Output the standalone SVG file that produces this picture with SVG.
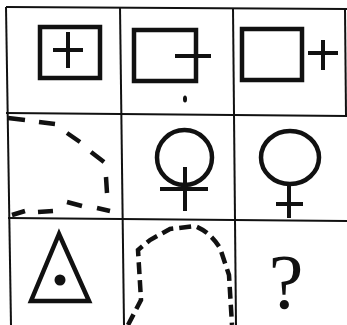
<svg xmlns="http://www.w3.org/2000/svg" width="347" height="325" viewBox="0 0 347 325">
<style>
.grid{stroke:#111;stroke-width:2;fill:none}
.sh{stroke:#111;fill:none;stroke-width:4.5}
.pl{stroke:#111;fill:none;stroke-width:4}
.dash{stroke:#111;fill:none;stroke-width:4.5;stroke-linecap:butt}
</style>
<rect width="347" height="325" fill="#fff"/>
<g id="grid" class="grid">
<line x1="6" y1="7" x2="347" y2="9"/>
<line x1="6" y1="7" x2="11" y2="325"/>
<line x1="6" y1="113" x2="347" y2="116"/>
<line x1="8" y1="218" x2="347" y2="221"/>
<line x1="120" y1="7" x2="124" y2="325"/>
<line x1="233" y1="8" x2="236" y2="325"/>
<line x1="345" y1="9" x2="346" y2="116"/>
</g>
<g id="r1c1">
<rect class="sh" x="40" y="27" width="60" height="51"/>
<line class="pl" x1="53" y1="50" x2="83" y2="50"/>
<line class="pl" x1="68" y1="32" x2="68" y2="68"/>
</g>
<g id="r1c2">
<rect class="sh" x="134" y="30" width="62" height="51"/>
<line class="pl" x1="175" y1="56" x2="211" y2="56" stroke-width="5"/>
<ellipse cx="185" cy="99" rx="2" ry="3.5" fill="#111"/>
</g>
<g id="r1c3">
<rect class="sh" x="242" y="29" width="60" height="51"/>
<line class="pl" x1="308" y1="53" x2="338" y2="53"/>
<line class="pl" x1="323" y1="40" x2="323" y2="70"/>
</g>
<g id="r2c1">
<path class="dash" d="M8,118 L25,120 M39,122 L55,124 M67,133 L80,142 M91,152 L104,162 M106,177 L107,193 M97,208 L110,211 M67,202 L82,206 M38,212 L53,211 M12,215 L25,211"/>
</g>
<g id="r2c2">
<circle class="sh" cx="184.5" cy="157.5" r="27.5"/>
<line class="pl" x1="160" y1="189" x2="208" y2="189" stroke-width="5"/>
<line class="pl" x1="185" y1="167" x2="185" y2="211" stroke-width="5"/>
</g>
<g id="r2c3">
<ellipse class="sh" cx="290" cy="157.5" rx="29" ry="26.5"/>
<line class="pl" x1="289" y1="185" x2="289" y2="218" stroke-width="3.5"/>
<line class="pl" x1="276" y1="204" x2="303" y2="204" stroke-width="3.5"/>
</g>
<g id="r3c1">
<polygon class="sh" points="59,234 31,301 89,301" stroke-width="5" stroke-linejoin="miter"/>
<circle cx="60" cy="280" r="5.5" fill="#111"/>
</g>
<g id="r3c2">
<path class="dash" stroke-dasharray="12 6" d="M128,325 L141,300 L138,250 L150,240 L170,229 L195,226 Q210,232 220,248 L229,275 L232,325"/>
</g>
<g id="r3c3">
<text x="286" y="308" font-family="'Liberation Serif', serif" font-size="78" text-anchor="middle" fill="#111">?</text>
</g>
</svg>
